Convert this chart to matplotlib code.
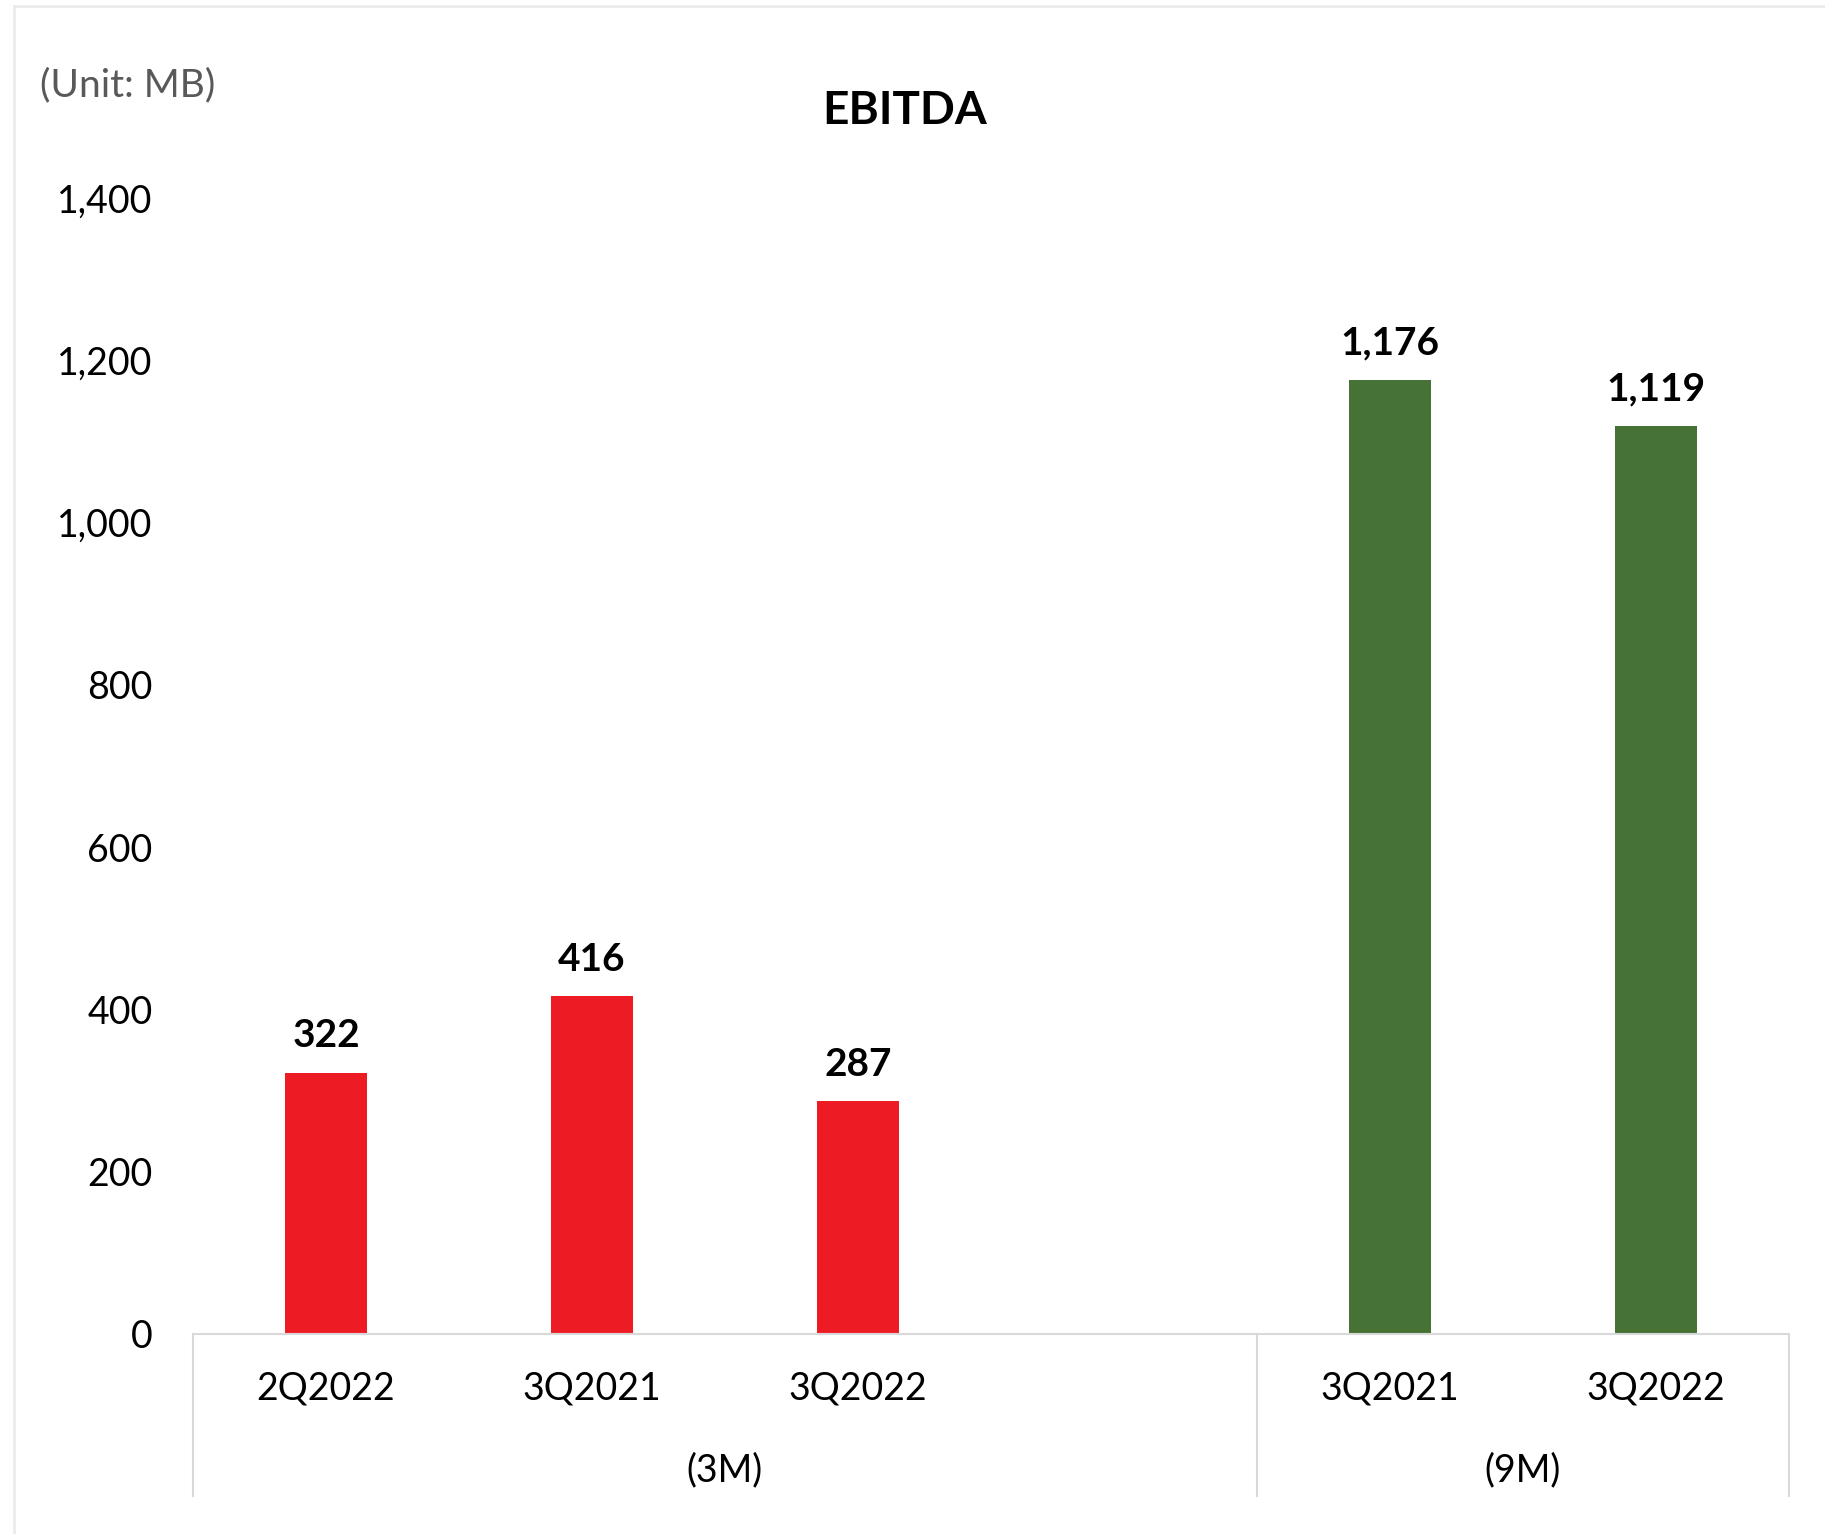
import matplotlib
matplotlib.use("Agg")
import matplotlib.pyplot as plt
from matplotlib.lines import Line2D

# data
labels_3m = ["2Q2022", "3Q2021", "3Q2022"]
values_3m = [322, 416, 287]
labels_9m = ["3Q2021", "3Q2022"]
values_9m = [1176, 1119]
groups = ["(3M)", "(9M)"]
yticks = [0, 200, 400, 600, 800, 1000, 1200, 1400]

RED = "#ED1C24"
GREEN = "#467235"
GRID = "#D9D9D9"

plt.rcParams["font.family"] = ["Lato", "DejaVu Sans"]

W, H = 1825, 1534
fig = plt.figure(figsize=(W / 100, H / 100), dpi=100)

# axes placement in pixels
left, right, top, bottom = 193, 1789, 198, 1334
ax = fig.add_axes([left / W, (H - bottom) / H, (right - left) / W, (bottom - top) / H])

# slot positions: 3 quarter bars, an empty slot, then 2 nine-month bars
x3 = list(range(len(labels_3m)))
x9 = [len(labels_3m) + 1 + i for i in range(len(labels_9m))]
nslots = x9[-1] + 1

bw = 0.31
b1 = ax.bar(x3, values_3m, width=bw, color=RED)
b2 = ax.bar(x9, values_9m, width=bw, color=GREEN)

for bars, vals in ((b1, values_3m), (b2, values_9m)):
    for r, v in zip(bars, vals):
        ax.annotate(f"{v:,}", (r.get_x() + r.get_width() / 2, v),
                    xytext=(0, 14), textcoords="offset points",
                    ha="center", va="bottom", fontsize=28, fontweight="bold",
                    color="black")

ax.set_xlim(-0.5, nslots - 0.5)
ax.set_ylim(0, 1400)
ax.set_yticks(yticks)
ax.set_yticklabels([f"{t:,}" for t in yticks], fontsize=27)
ax.tick_params(axis="y", length=0, pad=29)
ax.set_xticks([])

for s in ("top", "right", "left"):
    ax.spines[s].set_visible(False)
ax.spines["bottom"].set_color(GRID)
ax.spines["bottom"].set_linewidth(1.5)

trans = ax.get_xaxis_transform()
# category labels
for x, lab in zip(x3 + x9, labels_3m + labels_9m):
    ax.text(x, -0.048, lab, transform=trans, ha="center", va="center", fontsize=27)

# group separators and group labels (empty slot belongs to the 3M group)
sep_lo = -0.1426
bounds = [-0.5, x9[0] - 0.5, nslots - 0.5]
for b in bounds:
    ax.add_line(Line2D([b, b], [0, sep_lo], transform=trans, color=GRID,
                       lw=1.5, clip_on=False))
for i, g in enumerate(groups):
    ax.text((bounds[i] + bounds[i + 1]) / 2, -0.120, g, transform=trans,
            ha="center", va="center", fontsize=27)

# title and unit
fig.text(905 / W, 1 - 111 / H, "EBITDA", ha="center", va="center",
         fontsize=33, fontweight="bold")
fig.text(40 / W, 1 - 85 / H, "(Unit: MB)", ha="left", va="center",
         fontsize=28, color="#595959")

# faint outer frame (left and top)
fig.add_artist(Line2D([14 / W, 14 / W], [1 - 6 / H, 1 - 1532 / H],
                      transform=fig.transFigure, color="#EBEBEB", lw=2))
fig.add_artist(Line2D([14 / W, 1.0], [1 - 6 / H, 1 - 6 / H],
                      transform=fig.transFigure, color="#EBEBEB", lw=2))

fig.savefig("out.png", dpi=100, facecolor="white")
